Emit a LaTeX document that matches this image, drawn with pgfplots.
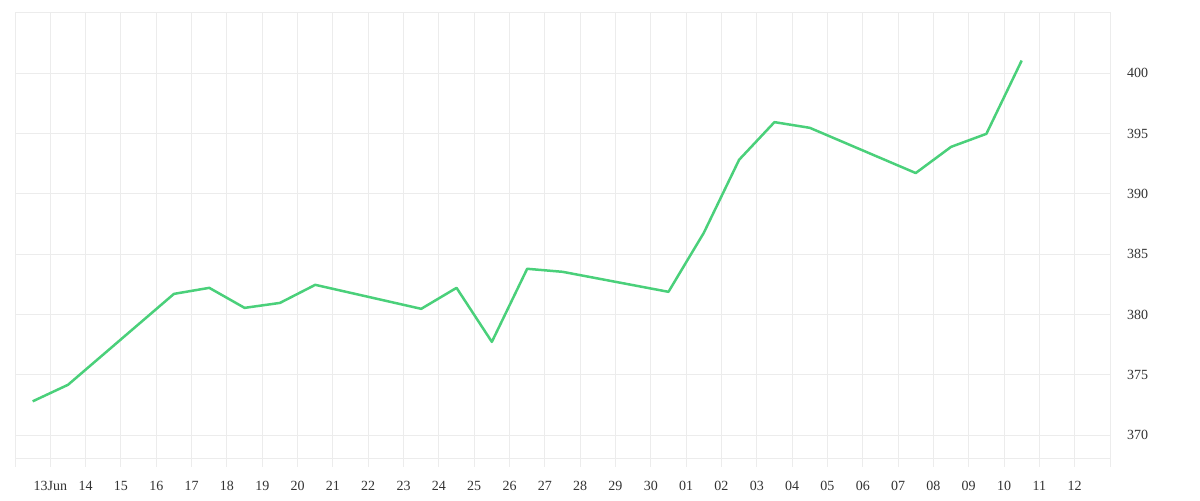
\documentclass[border=0pt]{standalone}
\usepackage{fontspec}
\setmainfont{Liberation Serif}
\usepackage{pgfplots}
\pgfplotsset{compat=1.18}
\definecolor{gridc}{HTML}{ECECEC}
\definecolor{linec}{HTML}{4AD07A}
\definecolor{txt}{HTML}{333333}
\begin{document}
\begin{tikzpicture}
\begin{axis}[
  scale only axis,
  width=1095bp, height=445bp,
  xmin=-1, xmax=30, ymin=368.1, ymax=405,
  xtick={-1,0,...,30},
  xticklabels={,13Jun,14,15,16,17,18,19,20,21,22,23,24,25,26,27,28,29,30,01,02,03,04,05,06,07,08,09,10,11,12,},
  ytick={370,375,...,405},
  yticklabels={370,375,380,385,390,395,400,},
  grid=major,
  major grid style={draw=gridc, line width=1bp},
  axis line style={draw=gridc, line width=1bp},
  x tick style={draw=gridc, line width=1bp},
  xtick align=outside,
  xtick pos=bottom,
  major tick length=9bp,
  y tick style={draw=none},
  yticklabel pos=right,
  ytick pos=right,
  /pgf/number format/assume math mode=true,
  tick label style={font=\fontsize{14bp}{16bp}\selectfont, text=txt},
  xticklabel style={anchor=north, inner sep=0pt, yshift=-14bp},
  yticklabel style={anchor=west, inner sep=0pt, xshift=17bp},
  clip=false,
]
\addplot[linec, line width=2.5bp, line join=round] coordinates {
(-0.5,372.8) (0.5,374.17) (3.5,381.71) (4.5,382.21) (5.5,380.55) (6.5,380.96)
(7.5,382.46) (10.5,380.47) (11.5,382.21) (12.5,377.73) (13.5,383.79) (14.5,383.54)
(17.5,381.88) (18.5,386.77) (19.5,392.83) (20.5,395.95) (21.5,395.48)
(24.5,391.73) (25.5,393.90) (26.5,394.98) (27.5,401.06)
};
\end{axis}
\pgfresetboundingbox
\path ([xshift=-15bp,yshift=-42bp]current axis.south west) rectangle ([xshift=90bp,yshift=13bp]current axis.north east);
\end{tikzpicture}
\end{document}
